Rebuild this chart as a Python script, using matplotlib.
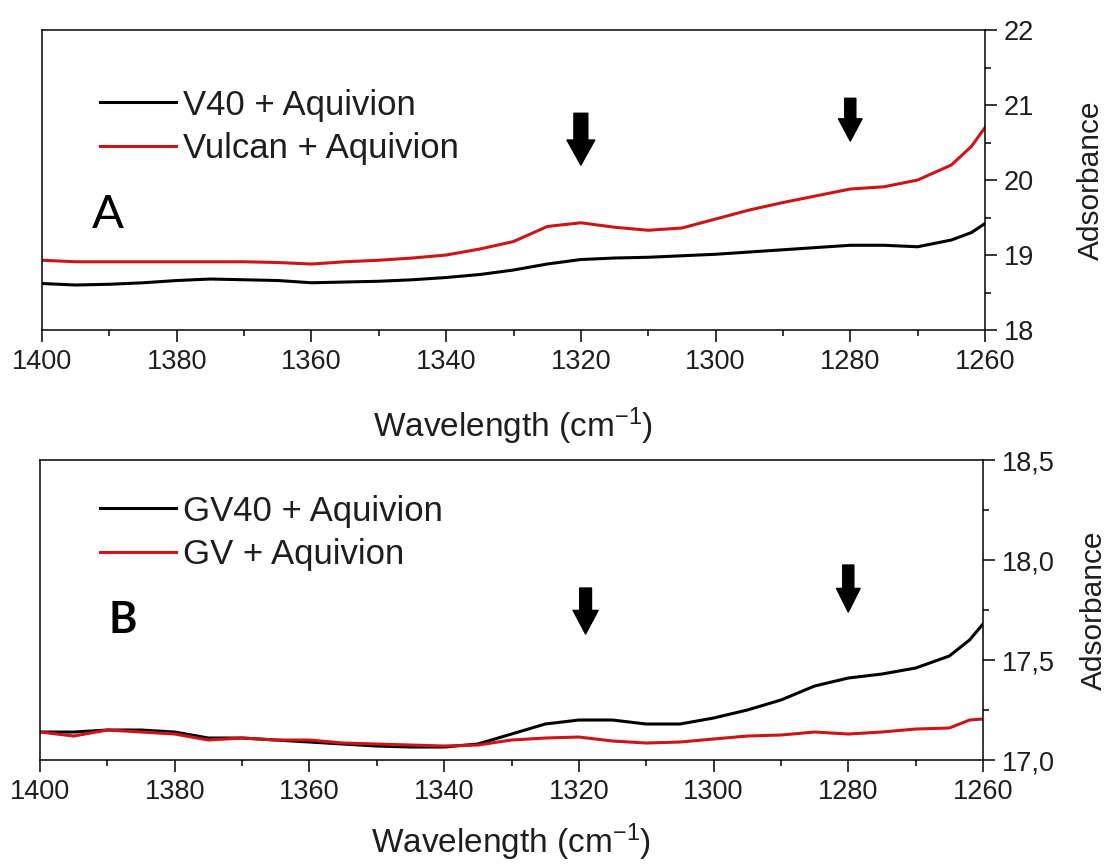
import numpy as np
import matplotlib
matplotlib.use("Agg")
import matplotlib.pyplot as plt
from matplotlib.ticker import MultipleLocator, FuncFormatter

plt.rcParams['font.family'] = ['Liberation Sans', 'DejaVu Sans']
plt.rcParams['mathtext.fontset'] = 'custom'
plt.rcParams['mathtext.rm'] = 'Liberation Sans'
plt.rcParams['mathtext.it'] = 'Liberation Sans'

# ---------------- DATA ----------------
wavenumber = [1400, 1395, 1390, 1385, 1380, 1375, 1370, 1365, 1360, 1355,
              1350, 1345, 1340, 1335, 1330, 1325, 1320, 1315, 1310, 1305,
              1300, 1295, 1290, 1285, 1280, 1275, 1270, 1265, 1262, 1260]

v40_aquivion = [18.62, 18.60, 18.61, 18.63, 18.66, 18.68, 18.67, 18.66, 18.63, 18.64,
                18.65, 18.67, 18.70, 18.74, 18.80, 18.88, 18.94, 18.96, 18.97, 18.99,
                19.01, 19.04, 19.07, 19.10, 19.13, 19.13, 19.11, 19.20, 19.30, 19.42]
vulcan_aquivion = [18.93, 18.91, 18.91, 18.91, 18.91, 18.91, 18.91, 18.90, 18.88, 18.91,
                   18.93, 18.96, 19.00, 19.08, 19.18, 19.38, 19.43, 19.37, 19.33, 19.36,
                   19.48, 19.60, 19.70, 19.79, 19.88, 19.91, 20.00, 20.20, 20.45, 20.70]

gv40_aquivion = [17.14, 17.14, 17.15, 17.15, 17.14, 17.11, 17.11, 17.10, 17.09, 17.08,
                 17.07, 17.065, 17.065, 17.08, 17.13, 17.18, 17.20, 17.20, 17.18, 17.18,
                 17.21, 17.25, 17.30, 17.37, 17.41, 17.43, 17.46, 17.52, 17.60, 17.68]
gv_aquivion = [17.14, 17.12, 17.15, 17.14, 17.13, 17.10, 17.11, 17.10, 17.10, 17.085,
               17.08, 17.075, 17.07, 17.075, 17.10, 17.11, 17.115, 17.095, 17.085, 17.09,
               17.105, 17.12, 17.125, 17.14, 17.13, 17.14, 17.155, 17.16, 17.20, 17.205]

# arrows: (x, y_tail, y_tip)
arrows_a = [(1320, 20.89, 20.20), (1280, 21.09, 20.52)]
arrows_b = [(1319, 17.86, 17.63), (1280, 17.975, 17.74)]
# arrow sizes in points: (shaft width, head width, head length)
arrow_size_a = [(10, 20, 18), (8, 17, 16)]
arrow_size_b = [(8.5, 18, 17), (8, 17, 17)]

RED = '#cf1414'
TXT = '#1e1e1e'
FS = 19.5


def comma(v, pos):
    return f"{v:.1f}".replace('.', ',')


def style_axis(ax, ylo, yhi, ymaj, ymin, ylab_x, xpad, fmt=None):
    ax.set_xlim(1400, 1260)
    ax.set_ylim(ylo, yhi)
    ax.xaxis.set_major_locator(MultipleLocator(20))
    ax.xaxis.set_minor_locator(MultipleLocator(10))
    ax.yaxis.set_major_locator(MultipleLocator(ymaj))
    ax.yaxis.set_minor_locator(MultipleLocator(ymin))
    if fmt:
        ax.yaxis.set_major_formatter(FuncFormatter(fmt))
    ax.yaxis.tick_right()
    ax.yaxis.set_label_position('right')
    ax.tick_params(axis='both', which='major', direction='out', length=8.6,
                   width=1.1, labelsize=FS, labelcolor=TXT, pad=5)
    ax.tick_params(axis='both', which='minor', direction='out', length=4.5,
                   width=1.1)
    for s in ax.spines.values():
        s.set_linewidth(1.1)
    ax.set_xlabel(r'Wavelength (cm$^{-1}$)', fontsize=24, color=TXT, labelpad=xpad)
    ax.set_ylabel('Adsorbance', fontsize=21.5, color=TXT)
    ax.yaxis.set_label_coords(ylab_x, 0.5)


def draw_arrows(ax, arrows, sizes):
    for (x, y0, y1), (w, hw, hl) in zip(arrows, sizes):
        ax.annotate('', xy=(x, y1), xytext=(x, y0),
                    arrowprops=dict(facecolor='black', edgecolor='black',
                                    width=w, headwidth=hw, headlength=hl))


fig = plt.figure(figsize=(11.15, 8.68), dpi=100)

# ---------------- PANEL A ----------------
ax1 = fig.add_axes([0.0377, 0.6198, 0.8457, 0.3456])
ax1.plot(wavenumber, v40_aquivion, color='black', lw=2.2, label='V40 + Aquivion')
ax1.plot(wavenumber, vulcan_aquivion, color=RED, lw=2.2, label='Vulcan + Aquivion')
style_axis(ax1, 18, 22, 1, 0.5, 1.097, 22)
draw_arrows(ax1, arrows_a, arrow_size_a)
ax1.legend(loc='upper left', bbox_to_anchor=(0.0615, 0.805), frameon=False,
           fontsize=25, handlelength=2.2, handletextpad=0.2, labelspacing=0.3,
           borderpad=0, borderaxespad=0, labelcolor=TXT)
ax1.text(0.07, 0.383, 'A', transform=ax1.transAxes, fontsize=34,
         family=['Lato', 'DejaVu Sans'], ha='center', va='center')

# ---------------- PANEL B ----------------
ax2 = fig.add_axes([0.0359, 0.1244, 0.8457, 0.3456])
ax2.plot(wavenumber, gv40_aquivion, color='black', lw=2.2, label='GV40 + Aquivion')
ax2.plot(wavenumber, gv_aquivion, color=RED, lw=2.2, label='GV + Aquivion')
style_axis(ax2, 17.0, 18.5, 0.5, 0.25, 1.103, 12, comma)
draw_arrows(ax2, arrows_b, arrow_size_b)
ax2.legend(loc='upper left', bbox_to_anchor=(0.0636, 0.885), frameon=False,
           fontsize=25, handlelength=2.2, handletextpad=0.2, labelspacing=0.3,
           borderpad=0, borderaxespad=0, labelcolor=TXT)
ax2.text(0.088, 0.467, 'B', transform=ax2.transAxes, fontsize=31,
         family=['Lato', 'DejaVu Sans'], fontweight='bold', ha='center', va='center')

fig.savefig('out.png', dpi=100)
